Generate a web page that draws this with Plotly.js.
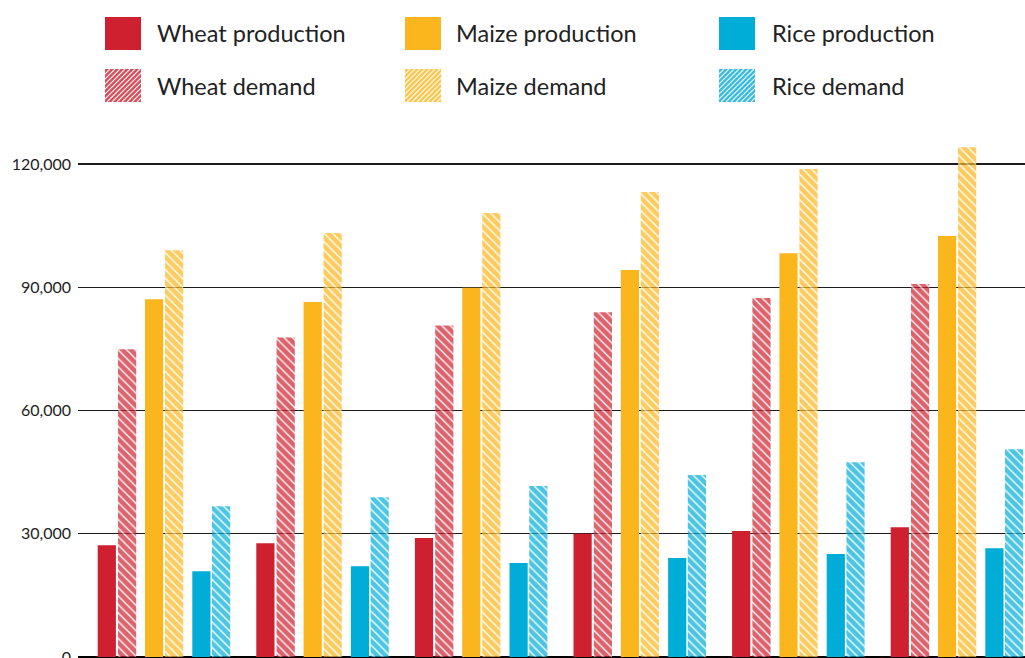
<!DOCTYPE html>
<html>
<head>
<meta charset="utf-8">
<script src="https://cdn.plot.ly/plotly-3.0.1.min.js"></script>
<style>
  html, body { margin: 0; padding: 0; background: #ffffff; }
  #chart { width: 1025px; height: 658px; }
</style>
</head>
<body>
<div id="chart"></div>
<script>
// Six time periods, each with production and demand for three crops (thousand tonnes)
const groupIndex   = [0, 1, 2, 3, 4, 5];
const wheatProd    = [27200, 27700, 29000, 30000, 30700, 31600];
const wheatDemand  = [74900, 77800, 80700, 83900, 87400, 90800];
const maizeProd    = [87100, 86400, 89900, 94200, 98300, 102500];
const maizeDemand  = [99000, 103200, 108100, 113200, 118800, 124100];
const riceProd     = [20900, 22100, 22900, 24100, 25100, 26500];
const riceDemand   = [36700, 38900, 41600, 44300, 47400, 50600];

const seriesNames = ['Wheat production', 'Wheat demand', 'Maize production',
                     'Maize demand', 'Rice production', 'Rice demand'];
const yTicks = [0, 30000, 60000, 90000, 120000];

// ---- layout geometry (pixels) ----
const W = 1025, H = 658;
const M = { l: 78, r: 0, t: 123, b: 1 };
const plotW = W - M.l - M.r, plotH = H - M.t - M.b;
const groupPx = 158.6;            // distance between group centres
const firstCentrePx = 163.9;      // centre of the first group
const barPx = 18.2;
// left edge of each bar relative to its group centre
const barLeftPx = [-66.2, -45.9, -18.9, 1.1, 28.4, 48.1];

const colors = { wheat: '#CE202F', maize: '#FCB61D', rice: '#00ADD6' };
const demandOpacity = 0.7;
const fontFamily = 'Lato, "Open Sans", sans-serif';

function barTrace(name, values, color, idx, demand) {
  const t = {
    type: 'bar',
    name: name,
    x: groupIndex,
    y: values,
    width: barPx / groupPx,
    offset: barLeftPx[idx] / groupPx,
    marker: { color: color, line: { width: 0 } },
    showlegend: false,
    hoverinfo: 'skip'
  };
  if (demand) {
    t.opacity = demandOpacity;
    t.marker.pattern = {
      shape: '\\', fillmode: 'replace',
      bgcolor: color, fgcolor: '#ffffff',
      size: 6, solidity: 0.22
    };
  }
  return t;
}

const traces = [
  barTrace(seriesNames[0], wheatProd,   colors.wheat, 0, false),
  barTrace(seriesNames[1], wheatDemand, colors.wheat, 1, true),
  barTrace(seriesNames[2], maizeProd,   colors.maize, 2, false),
  barTrace(seriesNames[3], maizeDemand, colors.maize, 3, true),
  barTrace(seriesNames[4], riceProd,    colors.rice,  4, false),
  barTrace(seriesNames[5], riceDemand,  colors.rice,  5, true)
];

// ---- legend: swatches and labels placed in pixel space ----
const px2x = px => (px - M.l) / plotW;
const py2y = py => (H - M.b - py) / plotH;

function swatchSvg(color, hatched) {
  const w = 36, h = 33;
  let s = `<svg xmlns="http://www.w3.org/2000/svg" width="${w}" height="${h}" viewBox="0 0 ${w} ${h}">`;
  s += `<rect width="${w}" height="${h}" fill="${color}" fill-opacity="${hatched ? 0.8 : 1}"/>`;
  if (hatched) {
    for (let i = -h; i < w + 2; i += 5) {
      s += `<line x1="${i}" y1="${h}" x2="${i + h}" y2="0" stroke="#ffffff" stroke-width="1.1"/>`;
    }
  }
  s += '</svg>';
  return 'data:image/svg+xml;charset=utf-8,' + encodeURIComponent(s);
}

const legendCols = [
  { swatch: 105, text: 155, color: colors.wheat, names: [seriesNames[0], seriesNames[1]] },
  { swatch: 405, text: 454, color: colors.maize, names: [seriesNames[2], seriesNames[3]] },
  { swatch: 719, text: 770, color: colors.rice,  names: [seriesNames[4], seriesNames[5]] }
];
const legendRowsTop = [17, 69];
const swW = 36, swH = 33;

const images = [];
const annotations = [];
legendCols.forEach(col => {
  legendRowsTop.forEach((top, r) => {
    images.push({
      source: swatchSvg(col.color, r === 1),
      xref: 'paper', yref: 'paper',
      x: px2x(col.swatch), y: py2y(top),
      sizex: swW / plotW, sizey: swH / plotH,
      xanchor: 'left', yanchor: 'top',
      sizing: 'stretch', layer: 'above'
    });
    annotations.push({
      text: col.names[r],
      xref: 'paper', yref: 'paper',
      x: px2x(col.text), y: py2y(top + swH / 2),
      xanchor: 'left', yanchor: 'middle',
      showarrow: false,
      font: { family: fontFamily, size: 23.5, color: '#222222' }
    });
  });
});

const layout = {
  width: W, height: H,
  margin: M,
  paper_bgcolor: '#ffffff',
  plot_bgcolor: '#ffffff',
  barmode: 'group',
  showlegend: false,
  font: { family: fontFamily, color: '#222222' },
  xaxis: {
    type: 'linear',
    range: [(M.l - firstCentrePx) / groupPx, (W - M.r - firstCentrePx) / groupPx],
    showgrid: false, zeroline: false, showline: false,
    showticklabels: false, ticks: '', fixedrange: true
  },
  yaxis: {
    range: [0, 130000],
    tickvals: yTicks,
    tickformat: ',d',
    showgrid: true, gridcolor: '#1c1c1c', gridwidth: 1.3,
    zeroline: true, zerolinecolor: '#000000', zerolinewidth: 2.6,
    showline: false, ticks: '',
    ticklabelstandoff: 6,
    ticklabeloverflow: 'allow',
    tickfont: { family: fontFamily, size: 16, color: '#222222' },
    fixedrange: true
  },
  images: images,
  annotations: annotations
};

Plotly.newPlot('chart', traces, layout, { staticPlot: true, displayModeBar: false });
</script>
</body>
</html>
